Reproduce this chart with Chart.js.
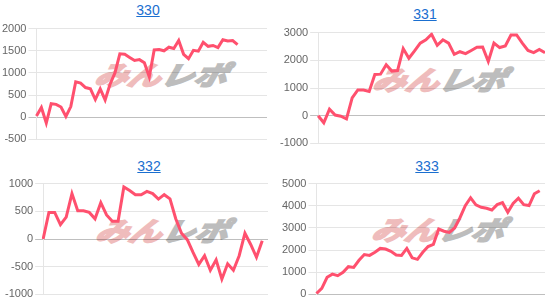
<!DOCTYPE html>
<html>
<head>
<meta charset="utf-8">
<script src="https://cdn.jsdelivr.net/npm/chart.js@4"></script>
<style>
  body { margin: 0; background: #fff; width: 555px; height: 307px; overflow: hidden; position: relative; }
  .title { position: absolute; width: 100px; text-align: center; font: 14px "Liberation Sans", Arial, sans-serif; line-height: 16px; }
  .title a { color: #1a6fd0; text-decoration: underline; }
  .mark { position: absolute; width: 150px; text-align: center; white-space: nowrap;
          font-family: "Noto Sans CJK JP", sans-serif; font-weight: bold; font-style: italic; font-size: 33px; line-height: 34px;
          transform: skewX(-14deg) scaleY(0.8); letter-spacing: 0px; }
  .mark .a { color: #efbcbc; -webkit-text-stroke: 2.5px #efbcbc; }
  .mark .b { color: #bdbdbd; -webkit-text-stroke: 2.5px #bdbdbd; }
  canvas { position: absolute; }
</style>
</head>
<body>

<div class="title" style="left:98px; top:2px"><a href="#">330</a></div>
<div class="title" style="left:375px; top:6px"><a href="#">331</a></div>
<div class="title" style="left:99px; top:158px"><a href="#">332</a></div>
<div class="title" style="left:377px; top:158px"><a href="#">333</a></div>

<div class="mark" style="left:87px; top:57px"><span class="a">みん</span><span class="b">レポ</span></div>
<div class="mark" style="left:365px; top:62px"><span class="a">みん</span><span class="b">レポ</span></div>
<div class="mark" style="left:88px; top:213px"><span class="a">みん</span><span class="b">レポ</span></div>
<div class="mark" style="left:364px; top:212px"><span class="a">みん</span><span class="b">レポ</span></div>

<canvas id="chart330" width="267" height="128" style="left:0px; top:20px"></canvas>
<canvas id="chart331" width="267" height="128" style="left:278px; top:24px"></canvas>
<canvas id="chart332" width="265" height="128" style="left:3px; top:175px"></canvas>
<canvas id="chart333" width="265" height="128" style="left:280px; top:175px"></canvas>

<script>
// number of x categories per chart (x labels are hidden)
const labelCount330 = 48;
const labelCount331 = 41;
const labelCount332 = 40;
const labelCount333 = 44;

const values330 = [30, 220, -130, 305, 290, 230, 20, 240, 800, 770, 670, 640, 400, 640, 390, 745,
  1000, 1430, 1420, 1350, 1280, 1300, 1230, 910, 1520, 1530, 1500, 1580, 1550, 1730, 1420, 1320,
  1510, 1490, 1690, 1600, 1620, 1570, 1750, 1720, 1730, 1640];
const values331 = [0, -255, 234, 25, -20, -115, 640, 930, 930, 875, 1490, 1500, 1840, 1610, 1630,
  2425, 2075, 2340, 2620, 2740, 2940, 2540, 2740, 2620, 2215, 2310, 2240, 2355, 2470, 2480, 1960,
  2620, 2460, 2520, 2915, 2915, 2620, 2355, 2275, 2390, 2275];
const values332 = [0, 480, 480, 260, 395, 820, 510, 510, 480, 365, 655, 435, 320, 320, 940, 875,
  800, 800, 860, 820, 720, 800, 725, 365, 104, -12, -243, -459, -302, -563, -377, -725, -447, -563,
  -302, 104, -99, -330, -30];
const values333 = [40, 275, 770, 915, 845, 1000, 1250, 1220, 1540, 1800, 1760, 1900, 2075, 2045,
  1945, 1780, 1760, 2075, 1650, 1580, 1900, 2160, 2260, 2950, 2850, 2800, 3000, 3460, 4000, 4360,
  4040, 3930, 3885, 3810, 4050, 4140, 3710, 4100, 4340, 4050, 4010, 4540, 4680];

const yTicks330 = [-500, 0, 500, 1000, 1500, 2000];
const yTicks331 = [-1000, 0, 1000, 2000, 3000];
const yTicks332 = [-1000, -500, 0, 500, 1000];
const yTicks333 = [0, 1000, 2000, 3000, 4000, 5000];

function drawChart(id, labelCount, values, yTicks) {
  const labels = [];
  for (let i = 0; i < labelCount; i++) labels.push(String(i + 1));

  new Chart(document.getElementById(id), {
    type: 'line',
    data: {
      labels: labels,
      datasets: [{
        data: values,
        borderColor: 'rgb(255, 80, 110)',
        borderWidth: 3,
        pointRadius: 0,
        tension: 0,
        fill: false
      }]
    },
    options: {
      responsive: false,
      animation: false,
      plugins: { legend: { display: false }, tooltip: { enabled: false } },
      scales: {
        x: { display: false },
        y: {
          min: yTicks[0],
          max: yTicks[yTicks.length - 1],
          ticks: {
            stepSize: yTicks[1] - yTicks[0],
            color: '#666',
            padding: 2,
            font: { size: 11, family: '"Liberation Sans", Arial, sans-serif' },
            callback: (v) => String(v)
          },
          grid: {
            color: (c) => (c.tick && c.tick.value === 0) ? 'rgba(0,0,0,0.25)' : 'rgba(0,0,0,0.1)'
          }
        }
      }
    }
  });
}

window.onload = function () {
  drawChart('chart330', labelCount330, values330, yTicks330);
  drawChart('chart331', labelCount331, values331, yTicks331);
  drawChart('chart332', labelCount332, values332, yTicks332);
  drawChart('chart333', labelCount333, values333, yTicks333);
};
</script>
</body>
</html>
